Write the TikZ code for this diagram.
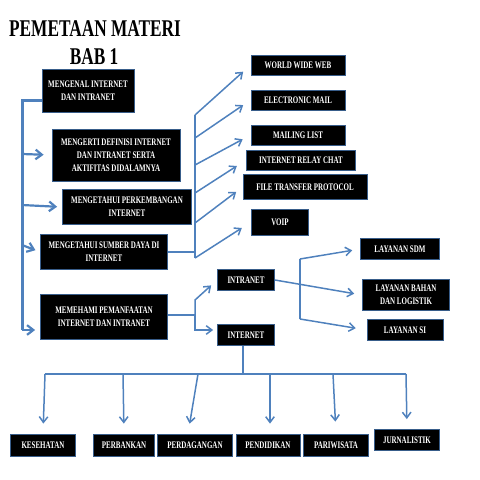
\documentclass[tikz,border=0pt]{standalone}
\usepackage{fontspec}
\usepackage{tikz}
\usetikzlibrary{arrows.meta}
\newfontfamily\boxfont{Liberation Serif}[FakeStretch=0.7]
\newfontfamily\titlefont{Liberation Serif}[FakeStretch=0.72]
\definecolor{linkblue}{RGB}{79,129,189}
\definecolor{boxedge}{RGB}{56,93,138}
\begin{document}
\begin{tikzpicture}[x=1pt,y=-1pt,
box/.style={draw=boxedge,line width=0.8pt,fill=black,text=white,align=center,inner sep=1pt,
  font=\boxfont\bfseries\fontsize{10}{13}\selectfont},
spine/.style={draw=linkblue,line width=3pt},
link/.style={draw=linkblue,line width=1.5pt},
flow/.style={link,-{Straight Barb[length=2mm,width=3mm]}},
bigflow/.style={draw=linkblue,line width=2.2pt,-{Straight Barb[length=2.2mm,width=3.4mm]}}]
\useasboundingbox (0,0) rectangle (480,480);
\node[font=\titlefont\bfseries\fontsize{24}{26}\selectfont] (title) at (95,29) {PEMETAAN MATERI};
\node[font=\titlefont\bfseries\fontsize{24}{26}\selectfont] (bab) at (94,57) {BAB 1};
% left column
\node[box,minimum width=92,minimum height=43] (kenal) at (88,91) {MENGENAL INTERNET\\DAN INTRANET};
\node[box,minimum width=128,minimum height=52] (definisi) at (116,155) {MENGERTI DEFINISI INTERNET\\DAN INTRANET SERTA\\AKTIFITAS DIDALAMNYA};
\node[box,minimum width=129,minimum height=35] (kembang) at (127,207) {MENGETAHUI PERKEMBANGAN\\INTERNET};
\node[box,minimum width=127,minimum height=35] (sumber) at (104,252) {MENGETAHUI SUMBER DAYA DI\\INTERNET};
\node[box,minimum width=127,minimum height=45] (manfaat) at (104,317) {MEMEHAMI PEMANFAATAN\\INTERNET DAN INTRANET};
% sumber daya
\node[box,minimum width=94,minimum height=20] (www) at (298,65) {WORLD WIDE WEB};
\node[box,minimum width=94,minimum height=20] (email) at (298,100) {ELECTRONIC MAIL};
\node[box,minimum width=94,minimum height=20] (mlist) at (298,135) {MAILING LIST};
\node[box,minimum width=109,minimum height=20] (irc) at (301,160) {INTERNET RELAY CHAT};
\node[box,minimum width=124,minimum height=25] (ftp) at (305,187) {FILE TRANSFER PROTOCOL};
\node[box,minimum width=57,minimum height=26] (voip) at (280,222) {VOIP};
% pemanfaatan
\node[box,minimum width=57,minimum height=21] (intranet) at (246,280) {INTRANET};
\node[box,minimum width=57,minimum height=21] (internet) at (246,335) {INTERNET};
\node[box,minimum width=79,minimum height=21] (sdm) at (400,249) {LAYANAN SDM};
\node[box,minimum width=87,minimum height=31] (bahan) at (406,295) {LAYANAN BAHAN\\DAN LOGISTIK};
\node[box,minimum width=76,minimum height=21] (si) at (405,330) {LAYANAN SI};
\node[box,minimum width=65,minimum height=22] (sehat) at (43,445) {KESEHATAN};
\node[box,minimum width=61,minimum height=22] (bank) at (124,445) {PERBANKAN};
\node[box,minimum width=75,minimum height=22] (dagang) at (195,445) {PERDAGANGAN};
\node[box,minimum width=64,minimum height=22] (didik) at (268,445) {PENDIDIKAN};
\node[box,minimum width=65,minimum height=22] (wisata) at (336,445) {PARIWISATA};
\node[box,minimum width=65,minimum height=21] (jurnal) at (407,440) {JURNALISTIK};
% connector points
\coordinate (sptop) at (22,100);
\coordinate (fantop) at (195,115); \coordinate (fanbot) at (195,258);
\coordinate (fork) at (195,315);
\coordinate (lytop) at (300,259); \coordinate (lybot) at (300,319);
\coordinate (rowl) at (45,374); \coordinate (rowr) at (406,374);
% left spine
\draw[spine] ([yshift=-9pt]kenal.west) -- (sptop) -- (22,330);
\draw[bigflow,shorten >=8pt] (22,154) -- (definisi.west);
\draw[bigflow,shorten >=5pt] (22,205) -- (kembang.west);
\draw[bigflow,shorten >=5pt] (22,245) -- (sumber.west);
\draw[bigflow,shorten >=5pt] (22,330) -- ([yshift=-13pt]manfaat.west);
% fan to sumber daya
\draw[link] (sumber.east) -- (sumber.east -| fantop);
\draw[link] (fantop) -- (fanbot);
\draw[flow,shorten >=10pt] (fantop) -- (www.west);
\draw[flow,shorten >=9pt] (195,138) -- (email.west);
\draw[flow,shorten >=9pt] (195,165) -- (mlist.west);
\draw[flow,shorten >=11pt] (195,193) -- (irc.west);
\draw[flow,shorten >=8pt] (195,223) -- (ftp.west);
\draw[flow,shorten >=11pt] (fanbot) -- (voip.west);
% intranet / internet
\draw[link] (manfaat.east |- fork) -- (fork);
\draw[flow,shorten >=8pt] (fork) -- (195,300) -- (intranet.west);
\draw[flow,shorten >=4pt] (fork) |- ([yshift=5pt]internet.west);
\draw[flow,shorten >=8pt] (intranet.east) -- (bahan.west);
\draw[link] (lytop) -- (lybot);
\draw[flow,shorten >=8pt] (lytop) -- (sdm.west);
\draw[flow,shorten >=11pt] (lybot) -- (si.west);
% bidang internet
\draw[link] (internet.south -| 243,0) -- (243,374);
\draw[link] (rowl) -- (rowr);
\draw[flow,shorten >=10pt] (rowl) -- (sehat.north);
\draw[flow,shorten >=10pt] (123,374) -- (bank.north);
\draw[flow,shorten >=10pt] (198,374) -- ([xshift=-7pt]dagang.north);
\draw[flow,shorten >=10pt] (270,374) -- ([xshift=2pt]didik.north);
\draw[flow,shorten >=12pt] (333,374) -- (wisata.north);
\draw[flow,shorten >=10pt] (rowr) -- (jurnal.north);
\end{tikzpicture}
\end{document}
